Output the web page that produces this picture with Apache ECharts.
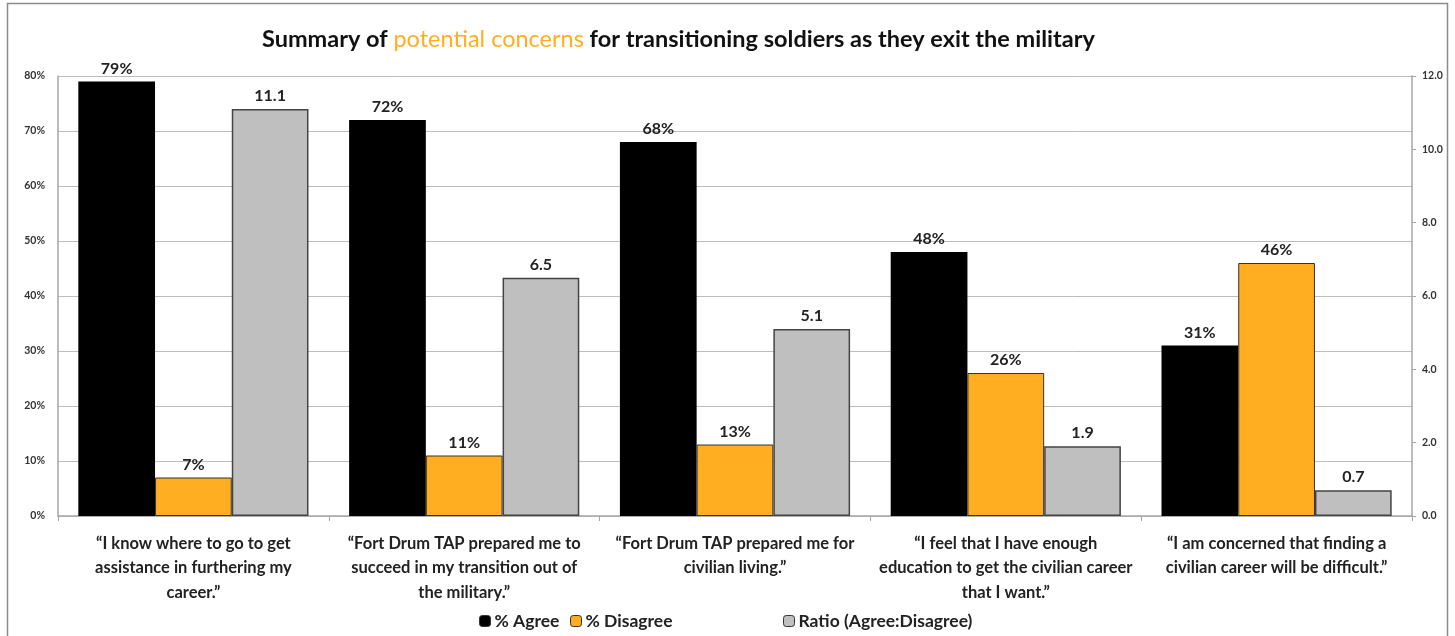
<!DOCTYPE html>
<html>
<head>
<meta charset="utf-8">
<script src="https://cdn.jsdelivr.net/npm/echarts@6/dist/echarts.min.js"></script>
<style>
  html, body { margin: 0; padding: 0; background: #fff; }
  #chart { width: 1455px; height: 636px; }
</style>
</head>
<body>
<div id="chart"></div>
<script>
// Survey statements (wrapped as they appear under each group)
const categories = [
  '\u201cI know where to go to get\nassistance in furthering my\ncareer.\u201d',
  '\u201cFort Drum TAP prepared me to\nsucceed in my transition out of\nthe military.\u201d',
  '\u201cFort Drum TAP prepared me for\ncivilian living.\u201d',
  '\u201cI feel that I have enough\neducation to get the civilian career\nthat I want.\u201d',
  '\u201cI am concerned that finding a\ncivilian career will be difficult.\u201d'
];
// Percent of respondents
const agreePct = [79, 72, 68, 48, 31];
const disagreePct = [7, 11, 13, 26, 46];
// Agree : Disagree ratio (right axis)
const ratio = [11.1, 6.5, 5.1, 1.9, 0.7];

const FONT = 'Lato';
const ORANGE = '#FFAE22';
const GRAY = '#BFBFBF';

const chart = echarts.init(document.getElementById('chart'));

const labelStyle = {
  show: true,
  position: 'top',
  distance: 5,
  fontFamily: FONT,
  fontWeight: 'bold',
  fontSize: 16,
  color: '#222'
};

const legendBase = {
  top: 607,
  itemWidth: 11,
  itemHeight: 11,
  itemGap: 4,
  textStyle: { fontFamily: FONT, fontWeight: 'bold', fontSize: 17.5, color: '#222', padding: [0, 0, 0, -1] }
};

chart.setOption({
  animation: false,
  backgroundColor: '#fff',
  title: {
    left: 257,
    top: 22,
    text: '{a|Summary of }{o|potential concerns}{a| for transitioning soldiers as they exit the military}',
    textStyle: {
      rich: {
        a: { fontFamily: FONT, fontWeight: 'bold', fontSize: 23.5, color: '#111' },
        o: { fontFamily: FONT, fontWeight: 'normal', fontSize: 23.5, color: ORANGE }
      }
    }
  },
  legend: [
    Object.assign({}, legendBase, { left: 474, data: [{ name: '% Agree', itemStyle: { color: '#000', borderColor: '#333', borderWidth: 1 } }] }),
    Object.assign({}, legendBase, { left: 565, data: [{ name: '% Disagree', itemStyle: { color: ORANGE, borderColor: '#333', borderWidth: 1 } }] }),
    Object.assign({}, legendBase, { left: 778, data: [{ name: 'Ratio (Agree:Disagree)', itemStyle: { color: GRAY, borderColor: '#333', borderWidth: 1 } }] })
  ],
  grid: { left: 58, right: 43, top: 76, bottom: 120 },
  xAxis: {
    type: 'category',
    data: categories,
    axisLine: { lineStyle: { color: '#A6A6A6', width: 1.5 } },
    axisTick: { show: true, length: 5, lineStyle: { color: '#A6A6A6' } },
    axisLabel: {
      interval: 0,
      margin: 15,
      fontFamily: FONT,
      fontWeight: 'bold',
      fontSize: 16.5,
      lineHeight: 24.5,
      color: '#222'
    }
  },
  yAxis: [
    {
      type: 'value',
      min: 0,
      max: 80,
      interval: 10,
      axisLine: { show: true, lineStyle: { color: '#A6A6A6', width: 1.5 } },
      axisTick: { show: false },
      splitLine: { lineStyle: { color: '#BDBDBD', width: 1 } },
      axisLabel: {
        formatter: '{value}%',
        margin: 13,
        fontFamily: FONT,
        fontWeight: 'bold',
        fontSize: 10.5,
        color: '#333'
      }
    },
    {
      type: 'value',
      min: 0,
      max: 12,
      interval: 2,
      position: 'right',
      axisLine: { show: true, lineStyle: { color: '#A6A6A6', width: 1.5 } },
      axisTick: { show: true, length: 4, lineStyle: { color: '#A6A6A6' } },
      splitLine: { show: false },
      axisLabel: {
        formatter: v => v.toFixed(1),
        margin: 10,
        fontFamily: FONT,
        fontWeight: 'bold',
        fontSize: 10.5,
        color: '#333'
      }
    }
  ],
  series: [
    {
      name: '% Agree',
      type: 'bar',
      data: agreePct,
      yAxisIndex: 0,
      barGap: '0%',
      barCategoryGap: '15%',
      itemStyle: { color: '#000' },
      label: Object.assign({}, labelStyle, { formatter: p => p.value + '%' })
    },
    {
      name: '% Disagree',
      type: 'bar',
      data: disagreePct,
      yAxisIndex: 0,
      barGap: '0%',
      barCategoryGap: '15%',
      itemStyle: { color: ORANGE, borderColor: '#333', borderWidth: 1 },
      label: Object.assign({}, labelStyle, { formatter: p => p.value + '%' })
    },
    {
      name: 'Ratio (Agree:Disagree)',
      type: 'bar',
      data: ratio,
      yAxisIndex: 1,
      barGap: '0%',
      barCategoryGap: '15%',
      itemStyle: { color: GRAY, borderColor: '#444', borderWidth: 1.5 },
      label: Object.assign({}, labelStyle, { formatter: p => p.value.toFixed(1) })
    }
  ],
  graphic: [
    {
      // outer frame: top, left and right edges
      type: 'polyline',
      shape: { points: [[7.5, 640], [7.5, 3.5], [1447.5, 3.5], [1447.5, 640]] },
      style: { stroke: '#8C8C8C', lineWidth: 1.5, fill: null }
    }
  ]
});
</script>
</body>
</html>
